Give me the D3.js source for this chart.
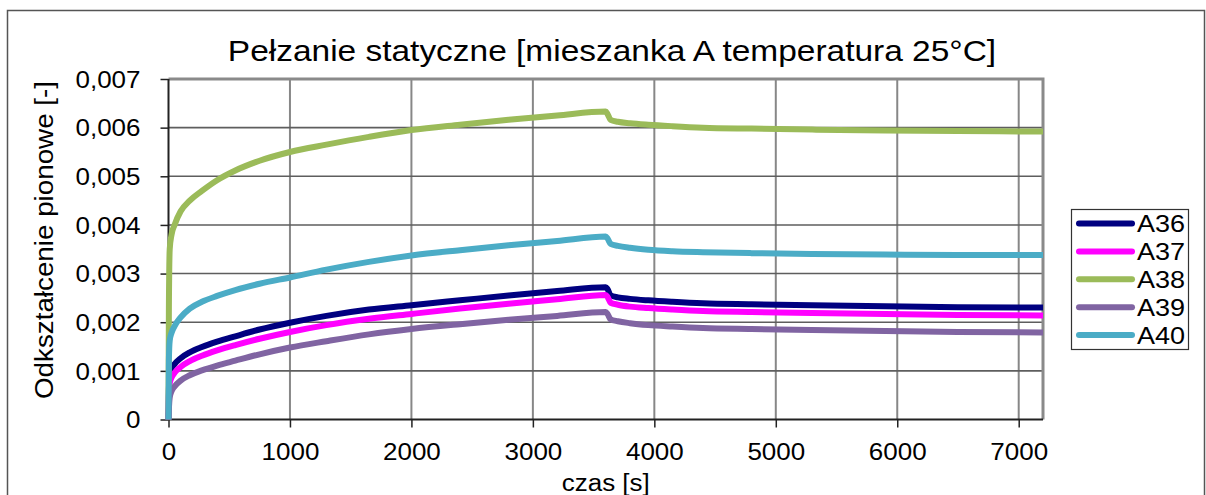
<!DOCTYPE html>
<html>
<head>
<meta charset="utf-8">
<script src="https://cdn.jsdelivr.net/npm/d3@7"></script>
<style>
  html, body { margin: 0; padding: 0; background: #fff; }
  svg { display: block; font-family: "Liberation Sans", Arial, sans-serif; }
</style>
</head>
<body>
<svg id="chart" width="1206" height="495"></svg>
<script>
// Time samples [s]: loading up to 3600 s, then unloading (recovery)
const czas = [0, 3, 10, 25, 50, 100, 175, 275, 400, 550, 750, 1000, 1300, 1650, 2000, 2400, 2800, 3200, 3600,
              3615, 3640, 3700, 3800, 3950, 4150, 4400, 4800, 5300, 5900, 6500, 7200];

// Vertical strain [-] of each specimen
const A36 = [0, 0.0006, 0.00094, 0.00105, 0.00114, 0.00126, 0.00138, 0.00149, 0.0016, 0.00171, 0.00185, 0.00199, 0.00213, 0.00226, 0.00235, 0.00245, 0.00255, 0.00264, 0.00272,
             0.00268, 0.00255, 0.00251, 0.00248, 0.00245, 0.00242, 0.00239, 0.00237, 0.00235, 0.00233, 0.00231, 0.0023];
const A37 = [0, 0.00045, 0.00074, 0.00086, 0.00096, 0.00108, 0.0012, 0.00131, 0.00142, 0.00153, 0.00166, 0.0018, 0.00194, 0.00207, 0.00217, 0.00228, 0.00238, 0.00247, 0.00256,
             0.00252, 0.0024, 0.00236, 0.00232, 0.00229, 0.00226, 0.00223, 0.00221, 0.00219, 0.00217, 0.00215, 0.00214];
const A38 = [0, 0.0022, 0.0035, 0.0038, 0.004, 0.00428, 0.0045, 0.0047, 0.00492, 0.00512, 0.00532, 0.0055, 0.00565, 0.00581, 0.00595, 0.00606, 0.00616, 0.00625, 0.00633,
             0.00628, 0.00616, 0.00612, 0.00609, 0.00606, 0.00603, 0.006, 0.00598, 0.00596, 0.00594, 0.00593, 0.00592];
const A39 = [0, 0.0002, 0.00045, 0.00058, 0.00068, 0.0008, 0.00091, 0.00101, 0.00111, 0.00121, 0.00134, 0.00148, 0.00161, 0.00175, 0.00186, 0.00196, 0.00205, 0.00213, 0.00221,
             0.00217, 0.00206, 0.00202, 0.00198, 0.00194, 0.00191, 0.00188, 0.00186, 0.00184, 0.00182, 0.0018, 0.00179];
const A40 = [0, 0.0012, 0.00162, 0.00178, 0.00192, 0.0021, 0.00228, 0.00242, 0.00254, 0.00266, 0.00279, 0.00292, 0.00308, 0.00324, 0.00337, 0.00348, 0.00358, 0.00367, 0.00376,
             0.00372, 0.00361, 0.00357, 0.00353, 0.00349, 0.00346, 0.00344, 0.00342, 0.0034, 0.00339, 0.00338, 0.00338];

const seriesNames = ["A36", "A37", "A38", "A39", "A40"];
const seriesColors = ["#000080", "#FF00FF", "#9BBB59", "#8064A2", "#4BACC6"];
const seriesValues = [A36, A37, A38, A39, A40];

const xTicks = [0, 1000, 2000, 3000, 4000, 5000, 6000, 7000];
const yTicks = [0, 0.001, 0.002, 0.003, 0.004, 0.005, 0.006, 0.007];

const title = "Pełzanie statyczne [mieszanka A temperatura 25°C]";
const xTitle = "czas [s]";
const yTitle = "Odkształcenie pionowe [-]";

const svg = d3.select("#chart");

// widen glyphs horizontally by factor k
function stretch(sel, k) {
  sel.each(function () {
    const len = this.getComputedTextLength();
    d3.select(this).attr("textLength", len * k).attr("lengthAdjust", "spacingAndGlyphs");
  });
}

// outer frame
svg.append("rect")
  .attr("x", 7.5).attr("y", 10.5)
  .attr("width", 1197).attr("height", 520)
  .attr("fill", "none").attr("stroke", "#555").attr("stroke-width", 1.5);

const plot = { left: 168.5, right: 1043, top: 79, bottom: 419.5 };

const x = d3.scaleLinear().domain([0, 7200]).range([plot.left, plot.right]);
const y = d3.scaleLinear().domain([0, 0.007]).range([plot.bottom, plot.top]);

// grid
svg.append("g").selectAll("line").data(xTicks.filter(d => d > 0)).join("line")
  .attr("x1", d => x(d)).attr("x2", d => x(d))
  .attr("y1", plot.top).attr("y2", plot.bottom)
  .attr("stroke", "#878787").attr("stroke-width", 2);

svg.append("g").selectAll("line").data(yTicks.filter(d => d > 0 && d < 0.007)).join("line")
  .attr("x1", plot.left).attr("x2", plot.right)
  .attr("y1", d => y(d)).attr("y2", d => y(d))
  .attr("stroke", "#5e5e5e").attr("stroke-width", 1.6);

// plot frame (top and right)
svg.append("path")
  .attr("d", `M${plot.left},${plot.top}H${plot.right}V${plot.bottom}`)
  .attr("fill", "none").attr("stroke", "#8a8a8a").attr("stroke-width", 3);

// axes
const fmtY = d => d === 0 ? "0" : d3.format(".3f")(d).replace(".", ",");
const fmtX = d3.format("d");

const yAxis = svg.append("g")
  .attr("transform", `translate(${plot.left},0)`)
  .call(d3.axisLeft(y).tickValues(yTicks).tickFormat(fmtY).tickSize(8).tickPadding(20));
const xAxis = svg.append("g")
  .attr("transform", `translate(0,${plot.bottom})`)
  .call(d3.axisBottom(x).tickValues(xTicks).tickFormat(fmtX).tickSize(8).tickPadding(16));

[yAxis, xAxis].forEach(a => {
  a.select(".domain").attr("stroke", "#222").attr("stroke-width", 2);
  a.selectAll(".tick line").attr("stroke", "#222").attr("stroke-width", 1.5);
  a.selectAll(".tick text").attr("font-size", 23).attr("fill", "#000")
    .attr("font-family", "Liberation Sans, Arial, sans-serif");
});
yAxis.select(".domain").attr("d", `M0,${plot.top}V${plot.bottom}`);
xAxis.select(".domain").attr("d", `M${plot.left},0H${plot.right}`);
yAxis.selectAll(".tick text").attr("dy", "0.36em");
xAxis.selectAll(".tick text").attr("dy", "0.71em");
stretch(yAxis.selectAll(".tick text"), 1.13);
stretch(xAxis.selectAll(".tick text"), 1.13);

// series
const line = d3.line()
  .x((d, i) => x(czas[i]))
  .y(d => y(d))
  .curve(d3.curveMonotoneX);

svg.append("g").selectAll("path").data(seriesValues).join("path")
  .attr("d", d => line(d))
  .attr("fill", "none")
  .attr("stroke", (d, i) => seriesColors[i])
  .attr("stroke-width", 6)
  .attr("stroke-linejoin", "round");

// titles
svg.append("text")
  .attr("x", 612).attr("y", 61)
  .attr("text-anchor", "middle")
  .attr("font-size", 30)
  .text(title)
  .call(stretch, 1.115);

svg.append("text")
  .attr("x", plot.left + (plot.right - plot.left) / 2).attr("y", 491)
  .attr("text-anchor", "middle")
  .attr("font-size", 23)
  .text(xTitle)
  .call(stretch, 1.13);

svg.append("text")
  .attr("transform", "translate(53,240) rotate(-90)")
  .attr("text-anchor", "middle")
  .attr("font-size", 26)
  .text(yTitle)
  .attr("textLength", 318).attr("lengthAdjust", "spacingAndGlyphs");

// legend
const legend = svg.append("g");
legend.append("rect")
  .attr("x", 1071.5).attr("y", 209.5).attr("width", 117).attr("height", 140)
  .attr("fill", "#fff").attr("stroke", "#333").attr("stroke-width", 1.2);

const items = legend.selectAll("g.item").data(seriesNames).join("g")
  .attr("class", "item")
  .attr("transform", (d, i) => `translate(0,${223.5 + i * 27.9})`);
items.append("line")
  .attr("x1", 1079).attr("x2", 1132).attr("y1", 0).attr("y2", 0)
  .attr("stroke", (d, i) => seriesColors[i])
  .attr("stroke-width", 6).attr("stroke-linecap", "round");
items.append("text")
  .attr("x", 1137).attr("y", 0).attr("dy", "0.36em")
  .attr("font-size", 23.5)
  .text(d => d)
  .call(stretch, 1.15);
</script>
</body>
</html>
